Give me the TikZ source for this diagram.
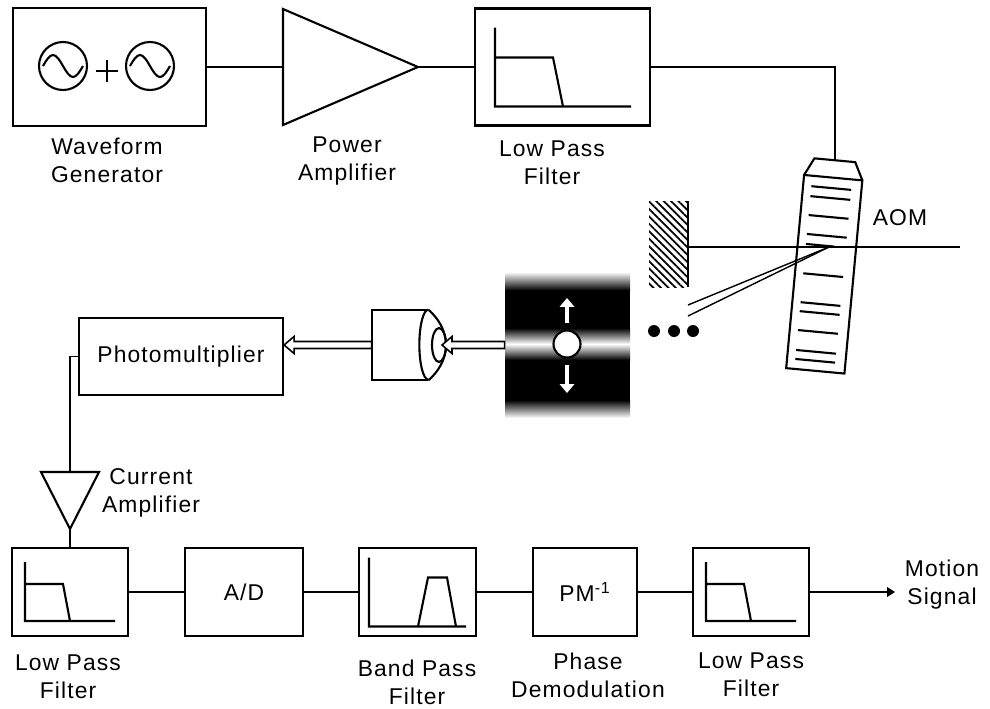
\documentclass[tikz,border=0pt]{standalone}
\usepackage{fontspec}
\setmainfont{Liberation Sans}[LetterSpace=5]
\usepackage{tikz}
\usetikzlibrary{arrows.meta,calc,patterns.meta,positioning}

% open double-line arrow, drawn from tail #1 leftwards to tip #2
\newcommand{\hollowarrow}[2]{%
  \filldraw[fill=white, line width=0.9pt] let \p1=(#1), \p2=(#2) in
    (\x2,\y2) -- (\x2+0.2cm,\y2+0.17cm) -- (\x2+0.2cm,\y2+0.07cm) -- (\x1,\y1+0.07cm)
    -- (\x1,\y1-0.07cm) -- (\x2+0.2cm,\y2-0.07cm) -- (\x2+0.2cm,\y2-0.17cm) -- cycle;}

\begin{document}
\begin{tikzpicture}[
  box/.style={draw, line width=1.2pt, inner sep=0pt, minimum height=1.76cm},
  wire/.style={line width=0.8pt},
  curve/.style={line width=1.2pt},
  lbl/.style={align=center, font=\fontsize{13}{16}\selectfont}]
\useasboundingbox (0cm,0cm) rectangle (19.8cm,-14.16cm);

% top row: source, amplifier, filter
\node[box, minimum width=3.86cm, minimum height=2.36cm] (1) at (2.19cm,-1.34cm) {};
\draw[curve] (1.26cm,-1.32cm) circle (0.48cm);
\draw[curve] (3.0cm,-1.32cm) circle (0.48cm);
\draw[curve] (0.86cm,-1.32cm) sin (1.06cm,-1.1cm) cos (1.26cm,-1.32cm) sin (1.46cm,-1.54cm) cos (1.66cm,-1.32cm);
\draw[curve] (2.6cm,-1.32cm) sin (2.8cm,-1.1cm) cos (3.0cm,-1.32cm) sin (3.2cm,-1.54cm) cos (3.4cm,-1.32cm);
\draw[line width=1.2pt] (2.14cm,-1.2cm) -- (2.14cm,-1.64cm);
\draw[line width=1.2pt] (1.92cm,-1.42cm) -- (2.36cm,-1.42cm);
\node[lbl] at (2.14cm,-3.2cm) {Waveform\\Generator};

\draw[curve] (5.66cm,-0.18cm) -- (8.36cm,-1.34cm) -- (5.66cm,-2.5cm) -- cycle;
\coordinate (pa-in) at (5.66cm,-1.34cm);
\coordinate (pa-out) at (8.36cm,-1.34cm);
\node[lbl] at (6.94cm,-3.22cm) {Power\\Amplifier};

\node[box, minimum width=3.5cm, minimum height=2.34cm] (2) at (11.25cm,-1.34cm) {};
\draw[curve, shift={(2)}] (-1.35,0.79) -- (-1.35,-0.79) -- (1.37,-0.79)
  (-1.35,0.19) -- (-0.19,0.19) -- (0.01,-0.79);
\node[lbl] at (11.04cm,-3.26cm) {Low Pass\\Filter};

\draw[wire] (1.east) -- (pa-in);
\draw[wire] (pa-out) -- (2.west);

% acousto-optic modulator, tilted
\begin{scope}[shift={(16.485cm,-5.485cm)}, rotate=-5.3]
\draw[curve] (-0.585,-1.94) rectangle (0.585,1.94);
\draw[curve] (-0.585,1.94) -- (-0.41,2.29) -- (0.41,2.29) -- (0.585,1.94);
\coordinate (aom) at (0,2.29);
\foreach \y in {1.73,1.53,1.15,0.77,-0.02,-0.6,-0.78,-1.16,-1.56,-1.74}
  \draw[curve] (-0.42,\y) -- (0.38,\y);
\draw[curve] (-0.42,0.57) -- (0.15,0.57);
\end{scope}
\node[lbl] at (18cm,-4.36cm) {AOM};
\draw[wire] (2.east) -| (aom);

% mirror, beams and diffraction orders
\fill[pattern={Lines[angle=-45,distance=3pt,line width=1pt]}] (12.98cm,-4.02cm) rectangle (13.76cm,-5.74cm);
\draw[line width=1.4pt] (13.76cm,-4.02cm) -- (13.76cm,-5.74cm);
\coordinate (m) at (13.76cm,-4.94cm);
\coordinate (beam-end) at (19.2cm,-4.94cm);
\coordinate (d) at (16.58cm,-4.94cm);
\draw[wire] (m) -- (beam-end);
\draw[wire] (d) -- (13.76cm,-6.1cm);
\draw[wire] (d) -- (13.76cm,-6.32cm);
\foreach \x in {13.08,13.48,13.86}
  \fill (\x cm,-6.62cm) circle (0.12cm);

% standing wave with the particle
\node[minimum width=2.5cm, minimum height=2.92cm, inner sep=0pt] (5) at (11.35cm,-6.9cm) {};
\shade[top color=white, bottom color=black] (10.1cm,-5.44cm) rectangle (12.6cm,-5.81cm);
\fill[black] (10.1cm,-5.8cm) rectangle (12.6cm,-6.57cm);
\shade[top color=black, bottom color=white] (10.1cm,-6.56cm) rectangle (12.6cm,-6.88cm);
\shade[top color=white, bottom color=black] (10.1cm,-6.88cm) rectangle (12.6cm,-7.2cm);
\fill[black] (10.1cm,-7.19cm) rectangle (12.6cm,-8.01cm);
\shade[top color=black, bottom color=white] (10.1cm,-8cm) rectangle (12.6cm,-8.36cm);
\filldraw[fill=white, line width=1.2pt] (11.34cm,-6.88cm) circle (0.27cm);
\draw[white, line width=2.4pt, -{Triangle[length=5pt,width=8pt]}] (11.34cm,-6.46cm) -- (11.34cm,-5.96cm);
\draw[white, line width=2.4pt, -{Triangle[length=5pt,width=8pt]}] (11.34cm,-7.3cm) -- (11.34cm,-7.86cm);

% detector with lens
\node[minimum width=1.12cm, minimum height=1.4cm, inner sep=0pt] (4) at (8cm,-6.9cm) {};
\draw[curve] (4.north east) -- (4.north west) -- (4.south west) -- (4.south east);
\draw[curve] (4.north east) arc[start angle=90, end angle=270, x radius=0.18cm, y radius=0.7cm];
\draw[curve] (4.north east) .. controls (8.75cm,-6.35cm) and (8.92cm,-6.6cm) .. (8.92cm,-6.9cm)
  .. controls (8.92cm,-7.2cm) and (8.75cm,-7.45cm) .. (4.south east);
\draw[curve] (8.78cm,-6.9cm) ellipse (0.14cm and 0.34cm);
\coordinate (4-in) at (8.84cm,-6.9cm);
\hollowarrow{5.west}{4-in}

\node[box, lbl, minimum width=4.08cm, minimum height=1.54cm] (3) at (3.62cm,-7.13cm) {Photomultiplier};
\hollowarrow{4.west}{4.west -| 3.east}

% current amplifier
\draw[curve] (0.82cm,-9.44cm) -- (1.98cm,-9.44cm) -- (1.4cm,-10.58cm) -- cycle;
\coordinate (ca-in) at (1.4cm,-9.44cm);
\coordinate (ca-out) at (1.4cm,-10.58cm);
\node[lbl] at (3.02cm,-9.86cm) {Current\\Amplifier};
\draw[wire] (3.west) -| (ca-in);

% bottom row: signal processing chain
\node[box, minimum width=2.32cm] (6) at (1.4cm,-11.84cm) {};
\node[box, lbl, minimum width=2.36cm] (7) at (4.88cm,-11.84cm) {A/D};
\node[box, minimum width=2.34cm] (8) at (8.35cm,-11.84cm) {};
\node[box, lbl, minimum width=2.08cm] (9) at (11.7cm,-11.84cm) {PM\textsuperscript{-1}};
\node[box, minimum width=2.32cm] (10) at (15.02cm,-11.84cm) {};
\coordinate (out) at (17.9cm,-11.84cm);

\draw[curve, shift={(6)}] (-0.9,0.6) -- (-0.9,-0.58) -- (0.9,-0.58)
  (-0.9,0.16) -- (-0.14,0.16) -- (0,-0.58);
\draw[curve, shift={(8)}] (-0.97,0.69) -- (-0.97,-0.69) -- (0.97,-0.69)
  (0.01,-0.69) -- (0.21,0.29) -- (0.59,0.29) -- (0.77,-0.69);
\draw[curve, shift={(10)}] (-0.9,0.6) -- (-0.9,-0.58) -- (0.9,-0.58)
  (-0.9,0.16) -- (-0.14,0.16) -- (0,-0.58);

\draw[wire] (ca-out) -- (6.north);
\draw[wire] (6) -- (7);
\draw[wire] (7) -- (8);
\draw[wire] (8) -- (9);
\draw[wire] (9) -- (10);
\draw[wire, -{Triangle[length=4.5pt,width=5.5pt]}] (10) -- (out);

\node[lbl] at (1.36cm,-13.54cm) {Low Pass\\Filter};
\node[lbl] at (8.34cm,-13.64cm) {Band Pass\\Filter};
\node[lbl] at (11.76cm,-13.5cm) {Phase\\Demodulation};
\node[lbl] at (15.02cm,-13.5cm) {Low Pass\\Filter};
\node[lbl] at (18.84cm,-11.7cm) {Motion\\Signal};
\end{tikzpicture}
\end{document}
